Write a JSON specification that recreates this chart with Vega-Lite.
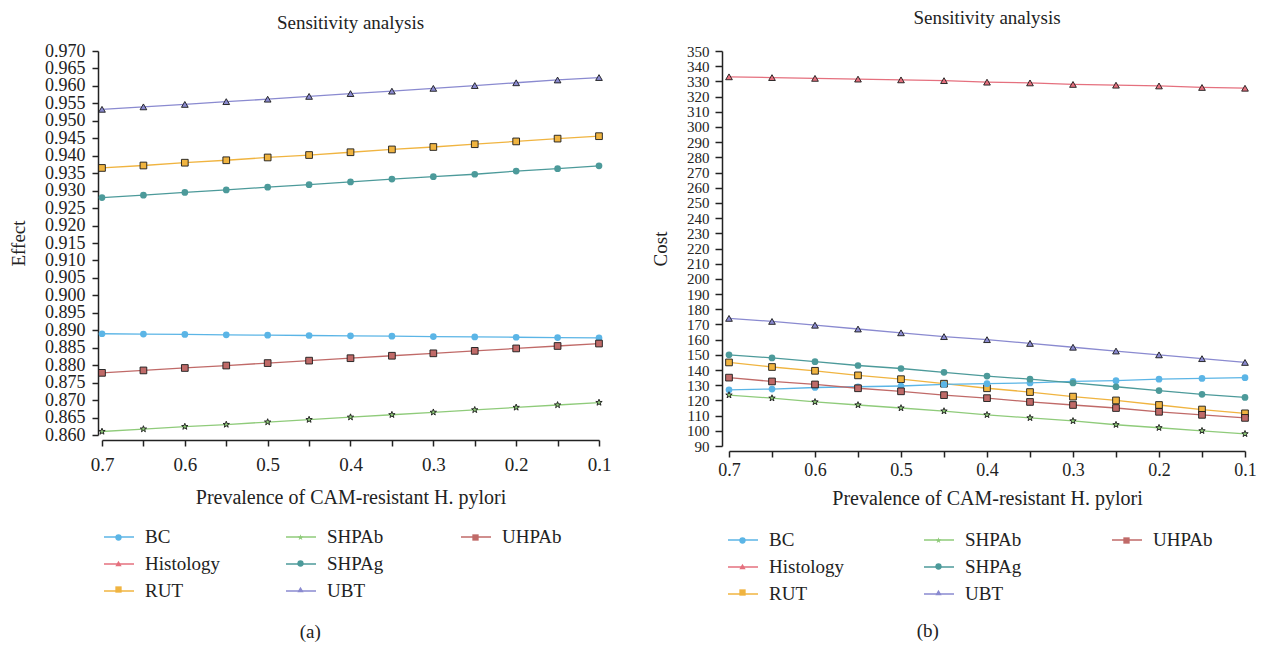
{
  "$schema": "https://vega.github.io/schema/vega-lite/v6.json",
  "padding": {"left": 9, "top": 9, "right": 5, "bottom": 2},
  "spacing": 40,
  "config": {
    "font": "Liberation Serif",
    "view": {"stroke": null},
    "axis": {
      "labelFont": "Liberation Serif", "titleFont": "Liberation Serif",
      "titleFontWeight": "normal", "domainColor": "#222", "tickColor": "#222",
      "labelColor": "#222", "titleColor": "#222", "domainWidth": 1.5, "tickWidth": 1.5,
      "grid": false, "labelOverlap": false, "labelFlush": false, "labelBound": false
    },
    "title": {"font": "Liberation Serif", "fontWeight": "normal", "color": "#222"},
    "legend": {"labelFont": "Liberation Serif", "labelColor": "#222", "labelFontSize": 19, "labelOffset": 10, "direction": "vertical", "title": null, "orient": "none"}
  },
  "datasets": {
    "effect": [
      {"x":0.7,"series":"UBT","v":0.9533},{"x":0.65,"series":"UBT","v":0.9540},{"x":0.6,"series":"UBT","v":0.9547},{"x":0.55,"series":"UBT","v":0.9555},{"x":0.5,"series":"UBT","v":0.9562},{"x":0.45,"series":"UBT","v":0.9570},{"x":0.4,"series":"UBT","v":0.9578},{"x":0.35,"series":"UBT","v":0.9585},{"x":0.3,"series":"UBT","v":0.9593},{"x":0.25,"series":"UBT","v":0.9601},{"x":0.2,"series":"UBT","v":0.9609},{"x":0.15,"series":"UBT","v":0.9617},{"x":0.1,"series":"UBT","v":0.9624},
      {"x":0.7,"series":"RUT","v":0.9365},{"x":0.65,"series":"RUT","v":0.9372},{"x":0.6,"series":"RUT","v":0.9380},{"x":0.55,"series":"RUT","v":0.9387},{"x":0.5,"series":"RUT","v":0.9395},{"x":0.45,"series":"RUT","v":0.9402},{"x":0.4,"series":"RUT","v":0.9410},{"x":0.35,"series":"RUT","v":0.9418},{"x":0.3,"series":"RUT","v":0.9425},{"x":0.25,"series":"RUT","v":0.9433},{"x":0.2,"series":"RUT","v":0.9441},{"x":0.15,"series":"RUT","v":0.9449},{"x":0.1,"series":"RUT","v":0.9456},
      {"x":0.7,"series":"SHPAg","v":0.9280},{"x":0.65,"series":"SHPAg","v":0.9287},{"x":0.6,"series":"SHPAg","v":0.9295},{"x":0.55,"series":"SHPAg","v":0.9302},{"x":0.5,"series":"SHPAg","v":0.9310},{"x":0.45,"series":"SHPAg","v":0.9317},{"x":0.4,"series":"SHPAg","v":0.9325},{"x":0.35,"series":"SHPAg","v":0.9333},{"x":0.3,"series":"SHPAg","v":0.9340},{"x":0.25,"series":"SHPAg","v":0.9347},{"x":0.2,"series":"SHPAg","v":0.9356},{"x":0.15,"series":"SHPAg","v":0.9363},{"x":0.1,"series":"SHPAg","v":0.9371},
      {"x":0.7,"series":"BC","v":0.8890},{"x":0.65,"series":"BC","v":0.8889},{"x":0.6,"series":"BC","v":0.8888},{"x":0.55,"series":"BC","v":0.8887},{"x":0.5,"series":"BC","v":0.8886},{"x":0.45,"series":"BC","v":0.8885},{"x":0.4,"series":"BC","v":0.8884},{"x":0.35,"series":"BC","v":0.8883},{"x":0.3,"series":"BC","v":0.8882},{"x":0.25,"series":"BC","v":0.8881},{"x":0.2,"series":"BC","v":0.8880},{"x":0.15,"series":"BC","v":0.8879},{"x":0.1,"series":"BC","v":0.8878},
      {"x":0.7,"series":"UHPAb","v":0.8778},{"x":0.65,"series":"UHPAb","v":0.8785},{"x":0.6,"series":"UHPAb","v":0.8792},{"x":0.55,"series":"UHPAb","v":0.8799},{"x":0.5,"series":"UHPAb","v":0.8806},{"x":0.45,"series":"UHPAb","v":0.8813},{"x":0.4,"series":"UHPAb","v":0.8820},{"x":0.35,"series":"UHPAb","v":0.8827},{"x":0.3,"series":"UHPAb","v":0.8834},{"x":0.25,"series":"UHPAb","v":0.8841},{"x":0.2,"series":"UHPAb","v":0.8848},{"x":0.15,"series":"UHPAb","v":0.8855},{"x":0.1,"series":"UHPAb","v":0.8862},
      {"x":0.7,"series":"SHPAb","v":0.8610},{"x":0.65,"series":"SHPAb","v":0.8617},{"x":0.6,"series":"SHPAb","v":0.8624},{"x":0.55,"series":"SHPAb","v":0.8630},{"x":0.5,"series":"SHPAb","v":0.8637},{"x":0.45,"series":"SHPAb","v":0.8644},{"x":0.4,"series":"SHPAb","v":0.8651},{"x":0.35,"series":"SHPAb","v":0.8658},{"x":0.3,"series":"SHPAb","v":0.8665},{"x":0.25,"series":"SHPAb","v":0.8672},{"x":0.2,"series":"SHPAb","v":0.8679},{"x":0.15,"series":"SHPAb","v":0.8686},{"x":0.1,"series":"SHPAb","v":0.8693}
    ],
    "cost": [
      {"x":0.7,"series":"Histology","v":333},{"x":0.65,"series":"Histology","v":332.5},{"x":0.6,"series":"Histology","v":332},{"x":0.55,"series":"Histology","v":331.5},{"x":0.5,"series":"Histology","v":331},{"x":0.45,"series":"Histology","v":330.5},{"x":0.4,"series":"Histology","v":329.5},{"x":0.35,"series":"Histology","v":329},{"x":0.3,"series":"Histology","v":328},{"x":0.25,"series":"Histology","v":327.5},{"x":0.2,"series":"Histology","v":327},{"x":0.15,"series":"Histology","v":326},{"x":0.1,"series":"Histology","v":325.5},
      {"x":0.7,"series":"UBT","v":174},{"x":0.65,"series":"UBT","v":172},{"x":0.6,"series":"UBT","v":169.5},{"x":0.55,"series":"UBT","v":167},{"x":0.5,"series":"UBT","v":164.5},{"x":0.45,"series":"UBT","v":162},{"x":0.4,"series":"UBT","v":160},{"x":0.35,"series":"UBT","v":157.5},{"x":0.3,"series":"UBT","v":155},{"x":0.25,"series":"UBT","v":152.5},{"x":0.2,"series":"UBT","v":150},{"x":0.15,"series":"UBT","v":147.5},{"x":0.1,"series":"UBT","v":145},
      {"x":0.7,"series":"SHPAg","v":150},{"x":0.65,"series":"SHPAg","v":148},{"x":0.6,"series":"SHPAg","v":145.5},{"x":0.55,"series":"SHPAg","v":143},{"x":0.5,"series":"SHPAg","v":141},{"x":0.45,"series":"SHPAg","v":138.5},{"x":0.4,"series":"SHPAg","v":136},{"x":0.35,"series":"SHPAg","v":134},{"x":0.3,"series":"SHPAg","v":131.5},{"x":0.25,"series":"SHPAg","v":129},{"x":0.2,"series":"SHPAg","v":126.5},{"x":0.15,"series":"SHPAg","v":124},{"x":0.1,"series":"SHPAg","v":122},
      {"x":0.7,"series":"RUT","v":145},{"x":0.65,"series":"RUT","v":142},{"x":0.6,"series":"RUT","v":139.5},{"x":0.55,"series":"RUT","v":136.5},{"x":0.5,"series":"RUT","v":134},{"x":0.45,"series":"RUT","v":131},{"x":0.4,"series":"RUT","v":128},{"x":0.35,"series":"RUT","v":125.5},{"x":0.3,"series":"RUT","v":122.5},{"x":0.25,"series":"RUT","v":120},{"x":0.2,"series":"RUT","v":117},{"x":0.15,"series":"RUT","v":114},{"x":0.1,"series":"RUT","v":111.5},
      {"x":0.7,"series":"UHPAb","v":135},{"x":0.65,"series":"UHPAb","v":132.5},{"x":0.6,"series":"UHPAb","v":130.5},{"x":0.55,"series":"UHPAb","v":128},{"x":0.5,"series":"UHPAb","v":126},{"x":0.45,"series":"UHPAb","v":123.5},{"x":0.4,"series":"UHPAb","v":121.5},{"x":0.35,"series":"UHPAb","v":119},{"x":0.3,"series":"UHPAb","v":117},{"x":0.25,"series":"UHPAb","v":115},{"x":0.2,"series":"UHPAb","v":112.5},{"x":0.15,"series":"UHPAb","v":110.5},{"x":0.1,"series":"UHPAb","v":108.5},
      {"x":0.7,"series":"BC","v":127},{"x":0.65,"series":"BC","v":127.5},{"x":0.6,"series":"BC","v":128.5},{"x":0.55,"series":"BC","v":129},{"x":0.5,"series":"BC","v":129.5},{"x":0.45,"series":"BC","v":130.5},{"x":0.4,"series":"BC","v":131},{"x":0.35,"series":"BC","v":131.5},{"x":0.3,"series":"BC","v":132.5},{"x":0.25,"series":"BC","v":133},{"x":0.2,"series":"BC","v":134},{"x":0.15,"series":"BC","v":134.5},{"x":0.1,"series":"BC","v":135},
      {"x":0.7,"series":"SHPAb","v":123.5},{"x":0.65,"series":"SHPAb","v":121.5},{"x":0.6,"series":"SHPAb","v":119},{"x":0.55,"series":"SHPAb","v":117},{"x":0.5,"series":"SHPAb","v":115},{"x":0.45,"series":"SHPAb","v":113},{"x":0.4,"series":"SHPAb","v":110.5},{"x":0.35,"series":"SHPAb","v":108.5},{"x":0.3,"series":"SHPAb","v":106.5},{"x":0.25,"series":"SHPAb","v":104},{"x":0.2,"series":"SHPAb","v":102},{"x":0.15,"series":"SHPAb","v":100},{"x":0.1,"series":"SHPAb","v":98}
    ]
  },
  "hconcat": [
    {
      "title": {"text": "(a)", "orient": "bottom", "anchor": "middle", "fontSize": 19, "offset": 22},
      "vconcat": [
        {
          "width": 497, "height": 384,
          "title": {"text": "Sensitivity analysis", "fontSize": 19, "offset": 9},
          "data": {"name": "effect"},
          "encoding": {
            "x": {"field": "x", "type": "quantitative",
              "scale": {"domain": [0.1, 0.7], "reverse": true, "nice": false, "zero": false},
              "axis": {"values": [0.1,0.15,0.2,0.25,0.3,0.35,0.4,0.45,0.5,0.55,0.6,0.65,0.7],
                "labelExpr": "round(datum.value*100) % 10 == 0 ? format(datum.value, '.1f') : ''",
                "offset": 5, "tickSize": 6, "labelFontSize": 19, "labelPadding": 9,
                "title": "Prevalence of CAM-resistant H. pylori", "titleFontSize": 20, "titlePadding": 13}},
            "y": {"field": "v", "type": "quantitative",
              "scale": {"domain": [0.86, 0.97], "nice": false, "zero": false},
              "axis": {"values": [0.86,0.865,0.87,0.875,0.88,0.885,0.89,0.895,0.9,0.905,0.91,0.915,0.92,0.925,0.93,0.935,0.94,0.945,0.95,0.955,0.96,0.965,0.97],
                "format": ".3f", "offset": 4, "tickSize": 6, "labelFontSize": 18, "labelPadding": 7,
                "title": "Effect", "titleFontSize": 19, "titlePadding": 16}}
          },
          "layer": [
            {
              "transform": [{"filter": {"field": "series", "oneOf": ["BC", "Histology", "RUT"]}}],
              "layer": [
                {"mark": {"type": "line", "strokeWidth": 1.3},
                 "encoding": {"stroke": {"field": "series", "type": "nominal",
                   "scale": {"domain": ["BC", "Histology", "RUT"], "range": ["#5BB5E6", "#E5707E", "#F0B440"]},
                   "legend": {"legendX": 1, "legendY": 470, "rowPadding": 1, "symbolType": "stroke", "symbolSize": 900, "symbolStrokeWidth": 1.5}}}},
                {"mark": {"type": "point", "filled": true, "size": 45, "opacity": 1, "strokeWidth": 0.9},
                 "encoding": {
                   "fill": {"field": "series", "type": "nominal",
                     "scale": {"domain": ["RUT", "Histology", "BC"], "range": ["#F0B440", "#E5707E", "#5BB5E6"]},
                     "legend": {"legendX": 7, "legendY": 477, "rowPadding": 6, "values": ["BC", "Histology", "RUT"], "labelOpacity": 0, "symbolSize": 40, "symbolStrokeColor": "#1a1a1a", "symbolStrokeWidth": 0.9, "symbolOpacity": 1}},
                   "shape": {"field": "series", "type": "nominal",
                     "scale": {"domain": ["RUT", "Histology", "BC"], "range": ["square", "triangle-up", "circle"]},
                     "legend": {"legendX": 7, "legendY": 477, "rowPadding": 6, "values": ["BC", "Histology", "RUT"], "labelOpacity": 0, "symbolSize": 40, "symbolStrokeColor": "#1a1a1a", "symbolStrokeWidth": 0.9, "symbolOpacity": 1}},
                   "stroke": {"condition": {"test": "datum.series==='BC'||datum.series==='SHPAg'", "value": "transparent"}, "value": "#1a1a1a"}}}
              ]
            },
            {
              "transform": [{"filter": {"field": "series", "oneOf": ["SHPAb", "SHPAg", "UBT"]}}],
              "layer": [
                {"mark": {"type": "line", "strokeWidth": 1.3},
                 "encoding": {"stroke": {"field": "series", "type": "nominal",
                   "scale": {"domain": ["SHPAb", "SHPAg", "UBT"], "range": ["#8FCB7A", "#4C9A9A", "#8A8AD0"]},
                   "legend": {"legendX": 183, "legendY": 470, "rowPadding": 1, "symbolType": "stroke", "symbolSize": 900, "symbolStrokeWidth": 1.5}}}},
                {"mark": {"type": "point", "filled": true, "size": 45, "opacity": 1, "strokeWidth": 0.9},
                 "encoding": {
                   "fill": {"field": "series", "type": "nominal",
                     "scale": {"domain": ["UBT", "SHPAg", "SHPAb"], "range": ["#8A8AD0", "#4C9A9A", "#8FCB7A"]},
                     "legend": {"legendX": 189, "legendY": 477, "rowPadding": 6, "values": ["SHPAb", "SHPAg", "UBT"], "labelOpacity": 0, "symbolSize": 40, "symbolStrokeColor": "#1a1a1a", "symbolStrokeWidth": 0.9, "symbolOpacity": 1}},
                   "shape": {"field": "series", "type": "nominal",
                     "scale": {"domain": ["UBT", "SHPAg", "SHPAb"], "range": ["triangle-up", "circle", "M0,-1L0.24,-0.33L0.95,-0.31L0.38,0.12L0.59,0.81L0,0.4L-0.59,0.81L-0.38,0.12L-0.95,-0.31L-0.24,-0.33Z"]},
                     "legend": {"legendX": 189, "legendY": 477, "rowPadding": 6, "values": ["SHPAb", "SHPAg", "UBT"], "labelOpacity": 0, "symbolSize": 40, "symbolStrokeColor": "#1a1a1a", "symbolStrokeWidth": 0.9, "symbolOpacity": 1}},
                   "stroke": {"condition": {"test": "datum.series==='BC'||datum.series==='SHPAg'", "value": "transparent"}, "value": "#1a1a1a"}}}
              ]
            },
            {
              "transform": [{"filter": {"field": "series", "oneOf": ["UHPAb"]}}],
              "layer": [
                {"mark": {"type": "line", "strokeWidth": 1.3},
                 "encoding": {"stroke": {"field": "series", "type": "nominal",
                   "scale": {"domain": ["UHPAb"], "range": ["#C06A68"]},
                   "legend": {"legendX": 358, "legendY": 470, "rowPadding": 1, "symbolType": "stroke", "symbolSize": 900, "symbolStrokeWidth": 1.5}}}},
                {"mark": {"type": "point", "filled": true, "size": 45, "opacity": 1, "strokeWidth": 0.9, "stroke": "#1a1a1a"},
                 "encoding": {
                   "fill": {"field": "series", "type": "nominal",
                     "scale": {"domain": ["UHPAb", "-"], "range": ["#C06A68", "#C06A68"]},
                     "legend": {"legendX": 364, "legendY": 477, "rowPadding": 6, "values": ["UHPAb"], "labelOpacity": 0, "symbolSize": 40, "symbolStrokeColor": "#1a1a1a", "symbolStrokeWidth": 0.9, "symbolOpacity": 1}},
                   "shape": {"field": "series", "type": "nominal",
                     "scale": {"domain": ["UHPAb", "-"], "range": ["square", "square"]},
                     "legend": {"legendX": 364, "legendY": 477, "rowPadding": 6, "values": ["UHPAb"], "labelOpacity": 0, "symbolSize": 40, "symbolStrokeColor": "#1a1a1a", "symbolStrokeWidth": 0.9, "symbolOpacity": 1}}}}
              ]
            }
          ],
          "resolve": {"scale": {"stroke": "independent", "fill": "independent", "shape": "independent"}}
        }
      ]
    },
    {
      "title": {"text": "(b)", "orient": "bottom", "anchor": "middle", "dx": -26, "fontSize": 19, "offset": 18},
      "vconcat": [
        {
          "width": 516, "height": 395,
          "title": {"text": "Sensitivity analysis", "fontSize": 19, "offset": 16},
          "data": {"name": "cost"},
          "encoding": {
            "x": {"field": "x", "type": "quantitative",
              "scale": {"domain": [0.1, 0.7], "reverse": true, "nice": false, "zero": false},
              "axis": {"values": [0.1,0.15,0.2,0.25,0.3,0.35,0.4,0.45,0.5,0.55,0.6,0.65,0.7],
                "labelExpr": "round(datum.value*100) % 10 == 0 ? format(datum.value, '.1f') : ''",
                "offset": 5, "tickSize": 6, "labelFontSize": 18, "labelPadding": 4,
                "title": "Prevalence of CAM-resistant H. pylori", "titleFontSize": 20, "titlePadding": 9}},
            "y": {"field": "v", "type": "quantitative",
              "scale": {"domain": [90, 350], "nice": false, "zero": false},
              "axis": {"values": [90,100,110,120,130,140,150,160,170,180,190,200,210,220,230,240,250,260,270,280,290,300,310,320,330,340,350],
                "offset": 7, "tickSize": 7, "labelFontSize": 15, "labelPadding": 6,
                "title": "Cost", "titleFontSize": 19, "titlePadding": 16}}
          },
          "layer": [
            {
              "transform": [{"filter": {"field": "series", "oneOf": ["BC", "Histology", "RUT"]}}],
              "layer": [
                {"mark": {"type": "line", "strokeWidth": 1.3},
                 "encoding": {"stroke": {"field": "series", "type": "nominal",
                   "scale": {"domain": ["BC", "Histology", "RUT"], "range": ["#5BB5E6", "#E5707E", "#F0B440"]},
                   "legend": {"legendX": -2, "legendY": 473, "rowPadding": 1, "symbolType": "stroke", "symbolSize": 900, "symbolStrokeWidth": 1.5}}}},
                {"mark": {"type": "point", "filled": true, "size": 45, "opacity": 1, "strokeWidth": 0.9},
                 "encoding": {
                   "fill": {"field": "series", "type": "nominal",
                     "scale": {"domain": ["RUT", "Histology", "BC"], "range": ["#F0B440", "#E5707E", "#5BB5E6"]},
                     "legend": {"legendX": 4, "legendY": 480, "rowPadding": 6, "values": ["BC", "Histology", "RUT"], "labelOpacity": 0, "symbolSize": 40, "symbolStrokeColor": "#1a1a1a", "symbolStrokeWidth": 0.9, "symbolOpacity": 1}},
                   "shape": {"field": "series", "type": "nominal",
                     "scale": {"domain": ["RUT", "Histology", "BC"], "range": ["square", "triangle-up", "circle"]},
                     "legend": {"legendX": 4, "legendY": 480, "rowPadding": 6, "values": ["BC", "Histology", "RUT"], "labelOpacity": 0, "symbolSize": 40, "symbolStrokeColor": "#1a1a1a", "symbolStrokeWidth": 0.9, "symbolOpacity": 1}},
                   "stroke": {"condition": {"test": "datum.series==='BC'||datum.series==='SHPAg'", "value": "transparent"}, "value": "#1a1a1a"}}}
              ]
            },
            {
              "transform": [{"filter": {"field": "series", "oneOf": ["SHPAb", "SHPAg", "UBT"]}}],
              "layer": [
                {"mark": {"type": "line", "strokeWidth": 1.3},
                 "encoding": {"stroke": {"field": "series", "type": "nominal",
                   "scale": {"domain": ["SHPAb", "SHPAg", "UBT"], "range": ["#8FCB7A", "#4C9A9A", "#8A8AD0"]},
                   "legend": {"legendX": 194, "legendY": 473, "rowPadding": 1, "symbolType": "stroke", "symbolSize": 900, "symbolStrokeWidth": 1.5}}}},
                {"mark": {"type": "point", "filled": true, "size": 45, "opacity": 1, "strokeWidth": 0.9},
                 "encoding": {
                   "fill": {"field": "series", "type": "nominal",
                     "scale": {"domain": ["UBT", "SHPAg", "SHPAb"], "range": ["#8A8AD0", "#4C9A9A", "#8FCB7A"]},
                     "legend": {"legendX": 200, "legendY": 480, "rowPadding": 6, "values": ["SHPAb", "SHPAg", "UBT"], "labelOpacity": 0, "symbolSize": 40, "symbolStrokeColor": "#1a1a1a", "symbolStrokeWidth": 0.9, "symbolOpacity": 1}},
                   "shape": {"field": "series", "type": "nominal",
                     "scale": {"domain": ["UBT", "SHPAg", "SHPAb"], "range": ["triangle-up", "circle", "M0,-1L0.24,-0.33L0.95,-0.31L0.38,0.12L0.59,0.81L0,0.4L-0.59,0.81L-0.38,0.12L-0.95,-0.31L-0.24,-0.33Z"]},
                     "legend": {"legendX": 200, "legendY": 480, "rowPadding": 6, "values": ["SHPAb", "SHPAg", "UBT"], "labelOpacity": 0, "symbolSize": 40, "symbolStrokeColor": "#1a1a1a", "symbolStrokeWidth": 0.9, "symbolOpacity": 1}},
                   "stroke": {"condition": {"test": "datum.series==='BC'||datum.series==='SHPAg'", "value": "transparent"}, "value": "#1a1a1a"}}}
              ]
            },
            {
              "transform": [{"filter": {"field": "series", "oneOf": ["UHPAb"]}}],
              "layer": [
                {"mark": {"type": "line", "strokeWidth": 1.3},
                 "encoding": {"stroke": {"field": "series", "type": "nominal",
                   "scale": {"domain": ["UHPAb"], "range": ["#C06A68"]},
                   "legend": {"legendX": 382, "legendY": 473, "rowPadding": 1, "symbolType": "stroke", "symbolSize": 900, "symbolStrokeWidth": 1.5}}}},
                {"mark": {"type": "point", "filled": true, "size": 45, "opacity": 1, "strokeWidth": 0.9, "stroke": "#1a1a1a"},
                 "encoding": {
                   "fill": {"field": "series", "type": "nominal",
                     "scale": {"domain": ["UHPAb", "-"], "range": ["#C06A68", "#C06A68"]},
                     "legend": {"legendX": 388, "legendY": 480, "rowPadding": 6, "values": ["UHPAb"], "labelOpacity": 0, "symbolSize": 40, "symbolStrokeColor": "#1a1a1a", "symbolStrokeWidth": 0.9, "symbolOpacity": 1}},
                   "shape": {"field": "series", "type": "nominal",
                     "scale": {"domain": ["UHPAb", "-"], "range": ["square", "square"]},
                     "legend": {"legendX": 388, "legendY": 480, "rowPadding": 6, "values": ["UHPAb"], "labelOpacity": 0, "symbolSize": 40, "symbolStrokeColor": "#1a1a1a", "symbolStrokeWidth": 0.9, "symbolOpacity": 1}}}}
              ]
            }
          ],
          "resolve": {"scale": {"stroke": "independent", "fill": "independent", "shape": "independent"}}
        }
      ]
    }
  ]
}
